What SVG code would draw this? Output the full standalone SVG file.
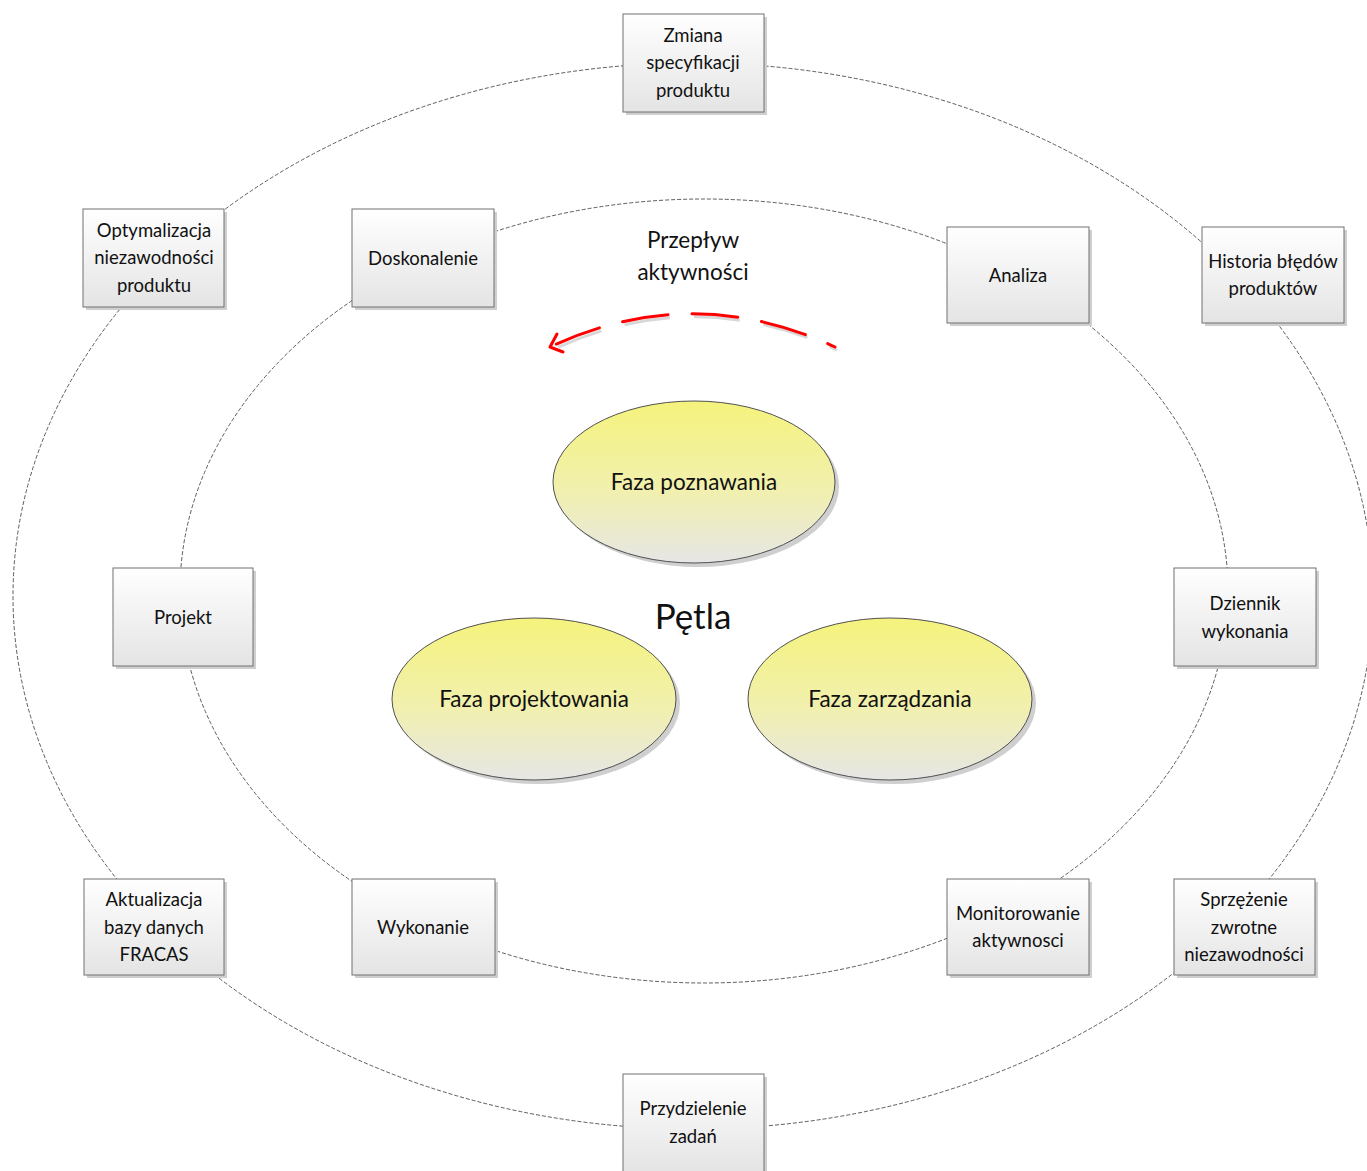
<svg xmlns="http://www.w3.org/2000/svg" width="1367" height="1171" viewBox="0 0 1367 1171">
<style>
.ring{fill:none;stroke:#4a4a4a;stroke-width:0.9;stroke-dasharray:4 2}
.box{fill:url(#boxg);stroke:#707070;stroke-width:1}
.bsh{fill:#cfcfcf}
.oval{fill:url(#ovg);stroke:#505050;stroke-width:1}
.osh{fill:#cfcfcf}
.t{font-family:Lato,"Open Sans","DejaVu Sans",sans-serif;font-size:18.5px;fill:#111;text-anchor:middle}
.tb{font-family:Lato,"Open Sans","DejaVu Sans",sans-serif;font-size:22.5px;fill:#111;text-anchor:middle}
.flow{fill:none;stroke:#ff0000;stroke-width:3;stroke-linecap:round}
</style>
<defs>
<linearGradient id="boxg" x1="0" y1="0" x2="0" y2="1">
<stop offset="0" stop-color="#ffffff"/>
<stop offset="1" stop-color="#e4e4e4"/>
</linearGradient>
<linearGradient id="ovg" x1="0" y1="0" x2="0" y2="1">
<stop offset="0" stop-color="#f5f37c"/>
<stop offset="0.55" stop-color="#f1f0ae"/>
<stop offset="1" stop-color="#e6e6e6"/>
</linearGradient>
</defs>
<rect width="1367" height="1171" fill="#ffffff"/>
<g id="connectors">
<ellipse class="ring" cx="693" cy="596" rx="680" ry="533"/>
<ellipse class="ring" cx="704" cy="591" rx="524" ry="392"/>
<path d="M835,347 Q693,281 552,346" fill="none" stroke="#d8d8d8" stroke-width="3" stroke-dasharray="46 24" stroke-dashoffset="38" transform="translate(2,3)"/>
<path class="flow" d="M835,347 Q693,281 552,346" stroke-dasharray="46 24" stroke-dashoffset="38"/>
<path d="M557,334 L550,347 L563,352" fill="none" stroke="#ff0000" stroke-width="3" stroke-linecap="round" stroke-linejoin="round"/>
</g>
<g id="label-flow">
<text class="tb" x="693" y="248">Przepływ</text>
<text class="tb" x="693" y="280">aktywności</text>
</g>
<g id="label-petla">
<text class="tb" x="693" y="629" style="font-size:35px">Pętla</text>
</g>
<g id="faza-poznawania">
<ellipse class="osh" cx="698" cy="486" rx="141" ry="81"/>
<ellipse class="oval" cx="694" cy="482" rx="141" ry="81"/>
<text class="tb" x="694" y="490">Faza poznawania</text>
</g>
<g id="faza-projektowania">
<ellipse class="osh" cx="538" cy="703" rx="142" ry="81"/>
<ellipse class="oval" cx="534" cy="699" rx="142" ry="81"/>
<text class="tb" x="534" y="707">Faza projektowania</text>
</g>
<g id="faza-zarzadzania">
<ellipse class="osh" cx="894" cy="703" rx="142" ry="81"/>
<ellipse class="oval" cx="890" cy="699" rx="142" ry="81"/>
<text class="tb" x="890" y="707">Faza zarządzania</text>
</g>
<g id="zmiana">
<rect class="bsh" x="626" y="17" width="141" height="98"/>
<rect class="box" x="623" y="14" width="141" height="98"/>
<text class="t" x="693" y="42">Zmiana</text>
<text class="t" x="693" y="69">specyfikacji</text>
<text class="t" x="693" y="97">produktu</text>
</g>
<g id="optymalizacja">
<rect class="bsh" x="86" y="212" width="141" height="98"/>
<rect class="box" x="83" y="209" width="141" height="98"/>
<text class="t" x="154" y="237">Optymalizacja</text>
<text class="t" x="154" y="264">niezawodności</text>
<text class="t" x="154" y="292">produktu</text>
</g>
<g id="doskonalenie">
<rect class="bsh" x="355" y="212" width="142" height="98"/>
<rect class="box" x="352" y="209" width="142" height="98"/>
<text class="t" x="423" y="265">Doskonalenie</text>
</g>
<g id="analiza">
<rect class="bsh" x="950" y="230" width="142" height="96"/>
<rect class="box" x="947" y="227" width="142" height="96"/>
<text class="t" x="1018" y="282">Analiza</text>
</g>
<g id="historia">
<rect class="bsh" x="1205" y="230" width="142" height="96"/>
<rect class="box" x="1202" y="227" width="142" height="96"/>
<text class="t" x="1273" y="268">Historia błędów</text>
<text class="t" x="1273" y="295">produktów</text>
</g>
<g id="projekt">
<rect class="bsh" x="116" y="571" width="140" height="98"/>
<rect class="box" x="113" y="568" width="140" height="98"/>
<text class="t" x="183" y="624">Projekt</text>
</g>
<g id="dziennik">
<rect class="bsh" x="1177" y="571" width="142" height="98"/>
<rect class="box" x="1174" y="568" width="142" height="98"/>
<text class="t" x="1245" y="610">Dziennik</text>
<text class="t" x="1245" y="638">wykonania</text>
</g>
<g id="aktualizacja">
<rect class="bsh" x="87" y="882" width="140" height="96"/>
<rect class="box" x="84" y="879" width="140" height="96"/>
<text class="t" x="154" y="906">Aktualizacja</text>
<text class="t" x="154" y="934">bazy danych</text>
<text class="t" x="154" y="961">FRACAS</text>
</g>
<g id="wykonanie">
<rect class="bsh" x="355" y="882" width="143" height="96"/>
<rect class="box" x="352" y="879" width="143" height="96"/>
<text class="t" x="423" y="934">Wykonanie</text>
</g>
<g id="monitorowanie">
<rect class="bsh" x="950" y="882" width="142" height="96"/>
<rect class="box" x="947" y="879" width="142" height="96"/>
<text class="t" x="1018" y="920">Monitorowanie</text>
<text class="t" x="1018" y="947">aktywnosci</text>
</g>
<g id="sprzezenie">
<rect class="bsh" x="1177" y="882" width="141" height="96"/>
<rect class="box" x="1174" y="879" width="141" height="96"/>
<text class="t" x="1244" y="906">Sprzężenie</text>
<text class="t" x="1244" y="934">zwrotne</text>
<text class="t" x="1244" y="961">niezawodności</text>
</g>
<g id="przydzielenie">
<rect class="bsh" x="626" y="1077" width="141" height="98"/>
<rect class="box" x="623" y="1074" width="141" height="98"/>
<text class="t" x="693" y="1115">Przydzielenie</text>
<text class="t" x="693" y="1143">zadań</text>
</g>
</svg>
